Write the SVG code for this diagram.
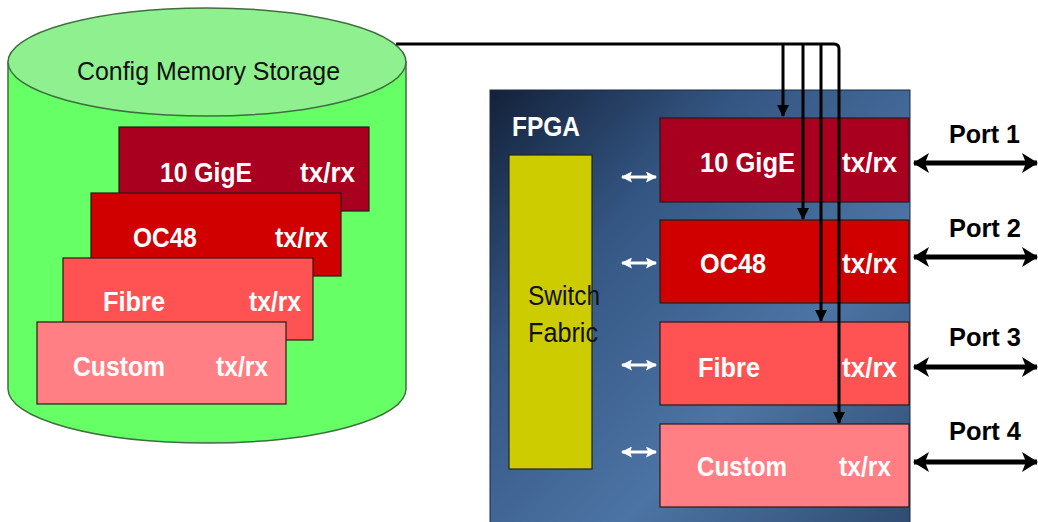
<svg xmlns="http://www.w3.org/2000/svg" width="1038" height="522" viewBox="0 0 1038 522">
  <defs>
    <linearGradient id="fpgaFill" x1="0" y1="0" x2="1" y2="1">
      <stop offset="0" stop-color="#13213a"/>
      <stop offset="0.3" stop-color="#345683"/>
      <stop offset="0.65" stop-color="#4c74a4"/>
      <stop offset="1" stop-color="#2f4b70"/>
    </linearGradient>
    <marker id="headBlack" viewBox="0 0 12 12" markerWidth="12" markerHeight="12" refX="11" refY="6" orient="auto" markerUnits="userSpaceOnUse">
      <path d="M0,0 L12,6 L0,12 z" fill="#000"/>
    </marker>
    <marker id="headPort" viewBox="0 0 16 20" markerWidth="16" markerHeight="20" refX="15" refY="10" orient="auto-start-reverse" markerUnits="userSpaceOnUse">
      <path d="M0,0 L16,10 L0,20 L4,10 z" fill="#000"/>
    </marker>
    <marker id="headWhite" viewBox="0 0 11 11" markerWidth="11" markerHeight="11" refX="10" refY="5.5" orient="auto-start-reverse" markerUnits="userSpaceOnUse">
      <path d="M0,0 L11,5.5 L0,11 L2,5.5 z" fill="#fff"/>
    </marker>
    <style>
      .narrow { font-family: "Liberation Sans", Arial, sans-serif; }
      .card { stroke: #2a1a1a; stroke-width: 1.2; }
      .c1 { fill: #a8001e; }
      .c2 { fill: #d00000; }
      .c3 { fill: #ff5252; }
      .c4 { fill: #ff7f84; }
      .lbl { fill: #fff; font-weight: bold; font-size: 28.5px; }
      .port { fill: #000; font-weight: bold; font-size: 26px; }
      .wire { stroke: #000; stroke-width: 3; fill: none; }
      .portArrow { stroke: #000; stroke-width: 5; marker-start: url(#headPort); marker-end: url(#headPort); }
      .bus { stroke: #fff; stroke-width: 3; marker-start: url(#headWhite); marker-end: url(#headWhite); }
    </style>
  </defs>

  <rect width="1038" height="522" fill="#fff"/>

  <!-- configuration memory: cylinder with stacked personality images -->
  <g id="config-memory">
    <path d="M8,62 V389 A199,54 0 0 0 406,389 V62 Z" fill="#66ff66" stroke="#3f6f3f" stroke-width="1.5"/>
    <ellipse cx="207" cy="62" rx="199" ry="54" fill="#8ff08f" stroke="#3f6f3f" stroke-width="1.5"/>
    <text class="narrow" x="77" y="80" font-size="26" fill="#111" textLength="263" lengthAdjust="spacingAndGlyphs">Config Memory Storage</text>
  </g>
  <g id="mem-10gige">
    <rect class="card c1" x="119" y="127" width="250" height="84"/>
    <text class="narrow lbl" x="160" y="182" textLength="92" lengthAdjust="spacingAndGlyphs">10 GigE</text>
    <text class="narrow lbl" x="300" y="182" textLength="55" lengthAdjust="spacingAndGlyphs">tx/rx</text>
  </g>
  <g id="mem-oc48">
    <rect class="card c2" x="91" y="193" width="250" height="83"/>
    <text class="narrow lbl" x="133" y="247" textLength="64" lengthAdjust="spacingAndGlyphs">OC48</text>
    <text class="narrow lbl" x="275" y="247" textLength="53" lengthAdjust="spacingAndGlyphs">tx/rx</text>
  </g>
  <g id="mem-fibre">
    <rect class="card c3" x="63" y="258" width="250" height="82"/>
    <text class="narrow lbl" x="103" y="311" textLength="62" lengthAdjust="spacingAndGlyphs">Fibre</text>
    <text class="narrow lbl" x="249" y="311" textLength="52" lengthAdjust="spacingAndGlyphs">tx/rx</text>
  </g>
  <g id="mem-custom">
    <rect class="card c4" x="37" y="322" width="249" height="82"/>
    <text class="narrow lbl" x="73" y="376" textLength="92" lengthAdjust="spacingAndGlyphs">Custom</text>
    <text class="narrow lbl" x="216" y="376" textLength="52" lengthAdjust="spacingAndGlyphs">tx/rx</text>
  </g>

  <!-- FPGA device -->
  <g id="fpga">
    <rect x="490" y="90" width="420" height="440" fill="url(#fpgaFill)" stroke="#1a2a40" stroke-width="1"/>
    <text class="narrow" x="512" y="136" font-size="28" font-weight="bold" fill="#fff" textLength="68" lengthAdjust="spacingAndGlyphs">FPGA</text>
  </g>
  <g id="switch-fabric">
    <rect x="509" y="155" width="83" height="314" fill="#cccc00" stroke="#222" stroke-width="1.2"/>
    <text class="narrow" x="528" y="305" font-size="27" fill="#111" textLength="72" lengthAdjust="spacingAndGlyphs">Switch</text>
    <text class="narrow" x="528" y="342" font-size="27" fill="#111" textLength="70" lengthAdjust="spacingAndGlyphs">Fabric</text>
  </g>
  <g id="fpga-10gige">
    <rect class="card c1" x="660" y="118" width="249" height="84"/>
    <text class="narrow lbl" x="700" y="172" textLength="95" lengthAdjust="spacingAndGlyphs">10 GigE</text>
    <text class="narrow lbl" x="842" y="172" textLength="55" lengthAdjust="spacingAndGlyphs">tx/rx</text>
  </g>
  <g id="fpga-oc48">
    <rect class="card c2" x="660" y="220" width="249" height="83"/>
    <text class="narrow lbl" x="700" y="273" textLength="66" lengthAdjust="spacingAndGlyphs">OC48</text>
    <text class="narrow lbl" x="842" y="273" textLength="55" lengthAdjust="spacingAndGlyphs">tx/rx</text>
  </g>
  <g id="fpga-fibre">
    <rect class="card c3" x="660" y="322" width="249" height="83"/>
    <text class="narrow lbl" x="698" y="377" textLength="62" lengthAdjust="spacingAndGlyphs">Fibre</text>
    <text class="narrow lbl" x="842" y="377" textLength="55" lengthAdjust="spacingAndGlyphs">tx/rx</text>
  </g>
  <g id="fpga-custom">
    <rect class="card c4" x="660" y="424" width="249" height="83"/>
    <text class="narrow lbl" x="697" y="476" textLength="90" lengthAdjust="spacingAndGlyphs">Custom</text>
    <text class="narrow lbl" x="839" y="476" textLength="52" lengthAdjust="spacingAndGlyphs">tx/rx</text>
  </g>

  <!-- external ports -->
  <g id="port-1"><text class="narrow port" x="949" y="143" textLength="71" lengthAdjust="spacingAndGlyphs">Port 1</text></g>
  <g id="port-2"><text class="narrow port" x="949" y="237" textLength="72" lengthAdjust="spacingAndGlyphs">Port 2</text></g>
  <g id="port-3"><text class="narrow port" x="949" y="346" textLength="72" lengthAdjust="spacingAndGlyphs">Port 3</text></g>
  <g id="port-4"><text class="narrow port" x="949" y="440" textLength="72" lengthAdjust="spacingAndGlyphs">Port 4</text></g>

  <g id="connectors">
    <!-- configuration load bus -->
    <path class="wire" d="M396,44 H834 Q839,44 839,49 V423" marker-end="url(#headBlack)"/>
    <path class="wire" d="M783,44 V116" marker-end="url(#headBlack)"/>
    <path class="wire" d="M803,44 V219" marker-end="url(#headBlack)"/>
    <path class="wire" d="M821,44 V321" marker-end="url(#headBlack)"/>
    <!-- switch fabric links -->
    <line class="bus" x1="622" y1="177" x2="656" y2="177"/>
    <line class="bus" x1="622" y1="263" x2="656" y2="263"/>
    <line class="bus" x1="622" y1="365" x2="656" y2="365"/>
    <line class="bus" x1="622" y1="452" x2="656" y2="452"/>
    <!-- port links -->
    <line class="portArrow" x1="914" y1="163" x2="1037" y2="163"/>
    <line class="portArrow" x1="914" y1="257" x2="1037" y2="257"/>
    <line class="portArrow" x1="914" y1="367" x2="1037" y2="367"/>
    <line class="portArrow" x1="914" y1="462" x2="1037" y2="462"/>
  </g>
</svg>
